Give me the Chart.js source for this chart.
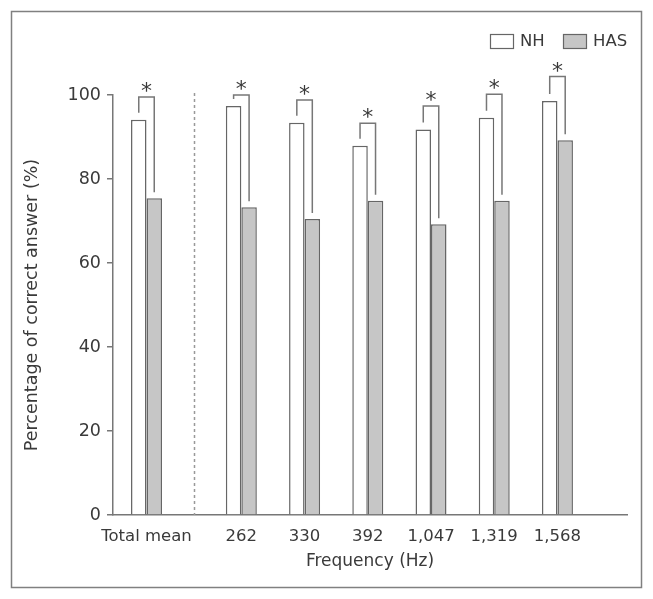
<!DOCTYPE html>
<html><head><meta charset="utf-8">
<script src="https://cdn.jsdelivr.net/npm/chart.js@4/dist/chart.umd.min.js"></script>
<style>html,body{margin:0;padding:0;background:#fff}#wrap{width:653px;height:599px}</style>
</head><body><div id="wrap"><canvas id="c" width="653" height="599"></canvas></div>
<script>
const categories = ['Total mean', '262', '330', '392', '1,047', '1,319', '1,568'];
const nhValues = [94.1, 97.4, 93.4, 87.9, 91.8, 94.6, 98.6];
const hasValues = [75.4, 73.3, 70.5, 74.8, 69.2, 74.8, 89.2];
const sigBracketTop = [99.5, 100.0, 98.8, 93.3, 97.4, 100.2, 104.4];
const yTicks = [0, 20, 40, 60, 80, 100];
const seriesNames = ['NH', 'HAS'];
const xTitle = 'Frequency (Hz)';
const yTitle = 'Percentage of correct answer (%)';
const sigMark = '*';

const FONT = 'DejaVu Sans';
const TEXT = '#3a3a3a';
const LINE = '#777';
Chart.defaults.font.family = FONT;

// layout: the "Total mean" group sits apart, then the frequency groups
const xPos = categories.map((_, i) => i === 0 ? 0.5 : i + 1);

const framePlugin = {
  id: 'frame',
  afterDraw(chart) {
    const ctx = chart.ctx;
    ctx.save();
    ctx.strokeStyle = '#808080';
    ctx.lineWidth = 1.5;
    ctx.strokeRect(11.5, 11.5, 630, 576);
    // legend
    const items = [
      { label: seriesNames[0], fill: '#ffffff' },
      { label: seriesNames[1], fill: '#c6c6c6' }
    ];
    const boxX = [490, 563];
    ctx.font = '16.5px ' + FONT;
    ctx.textBaseline = 'middle';
    ctx.textAlign = 'left';
    items.forEach((it, k) => {
      ctx.fillStyle = it.fill;
      ctx.fillRect(boxX[k], 34, 23, 14);
      ctx.strokeStyle = '#666';
      ctx.lineWidth = 1.2;
      ctx.strokeRect(boxX[k] + 0.5, 34.5, 23, 14);
      ctx.fillStyle = TEXT;
      ctx.fillText(it.label, boxX[k] + 30, 42);
    });
    ctx.restore();
  },
  afterDatasetsDraw(chart) {
    const ctx = chart.ctx;
    const ys = chart.scales.y, xs = chart.scales.x;
    const m0 = chart.getDatasetMeta(0), m1 = chart.getDatasetMeta(1);
    ctx.save();
    // dashed divider
    const dx = Math.round(xs.getPixelForValue((xPos[0] + xPos[1]) / 2)) + 0.5;
    ctx.strokeStyle = '#999';
    ctx.lineWidth = 1.5;
    ctx.setLineDash([3, 3]);
    ctx.beginPath();
    ctx.moveTo(dx, ys.getPixelForValue(100) - 2);
    ctx.lineTo(dx, ys.getPixelForValue(0));
    ctx.stroke();
    ctx.setLineDash([]);
    // significance brackets
    ctx.strokeStyle = LINE;
    ctx.lineWidth = 1.5;
    categories.forEach((_, i) => {
      const a = m0.data[i], b = m1.data[i];
      const top = ys.getPixelForValue(sigBracketTop[i]);
      ctx.beginPath();
      ctx.moveTo(a.x, a.y - 7);
      ctx.lineTo(a.x, top);
      ctx.lineTo(b.x, top);
      ctx.lineTo(b.x, b.y - 6);
      ctx.stroke();
      ctx.fillStyle = TEXT;
      ctx.font = '22px ' + FONT;
      ctx.textAlign = 'center';
      ctx.textBaseline = 'alphabetic';
      ctx.fillText(sigMark, (a.x + b.x) / 2, top + 1);
    });
    ctx.restore();
  }
};

new Chart(document.getElementById('c'), {
  type: 'bar',
  data: {
    datasets: [
      {
        label: seriesNames[0],
        data: nhValues.map((v, i) => ({ x: xPos[i], y: v })),
        backgroundColor: '#ffffff',
        borderColor: '#666',
        borderWidth: 1.5
      },
      {
        label: seriesNames[1],
        data: hasValues.map((v, i) => ({ x: xPos[i], y: v })),
        backgroundColor: '#c6c6c6',
        borderColor: '#666',
        borderWidth: 1.5
      }
    ]
  },
  options: {
    responsive: false,
    devicePixelRatio: 1,
    animation: false,
    categoryPercentage: 0.49,
    barPercentage: 1,
    layout: { padding: { top: 95, right: 26, left: 0, bottom: 0 } },
    plugins: { legend: { display: false }, tooltip: { enabled: false } },
    scales: {
      x: {
        type: 'linear',
        min: -0.03,
        max: 8.1,
        offset: false,
        grid: { display: false },
        border: { display: true, color: LINE, width: 1.5 },
        afterBuildTicks: (s) => { s.ticks = xPos.map(v => ({ value: v })); },
        afterFit: (s) => { s.height = 84; },
        ticks: {
          autoSkip: false,
          maxRotation: 0,
          padding: 4,
          color: TEXT,
          font: { size: 16.5 },
          callback: (v) => categories[xPos.indexOf(v)]
        },
        title: {
          display: true,
          text: xTitle,
          color: TEXT,
          font: { size: 17 },
          padding: { top: 0, bottom: 27 }
        }
      },
      y: {
        min: 0,
        max: 100,
        grid: { display: true, drawOnChartArea: false, drawTicks: true, tickLength: 6, color: LINE, lineWidth: 1.5 },
        border: { display: true, color: LINE, width: 1.5 },
        afterBuildTicks: (s) => { s.ticks = yTicks.map(v => ({ value: v })); },
        afterFit: (s) => { s.width = 113; },
        ticks: { padding: 6, color: TEXT, font: { size: 17.5 } },
        title: {
          display: true,
          text: yTitle,
          color: TEXT,
          font: { size: 17.5 },
          padding: { top: 22, bottom: 0 }
        }
      }
    }
  },
  plugins: [framePlugin]
});
</script>
</body></html>
